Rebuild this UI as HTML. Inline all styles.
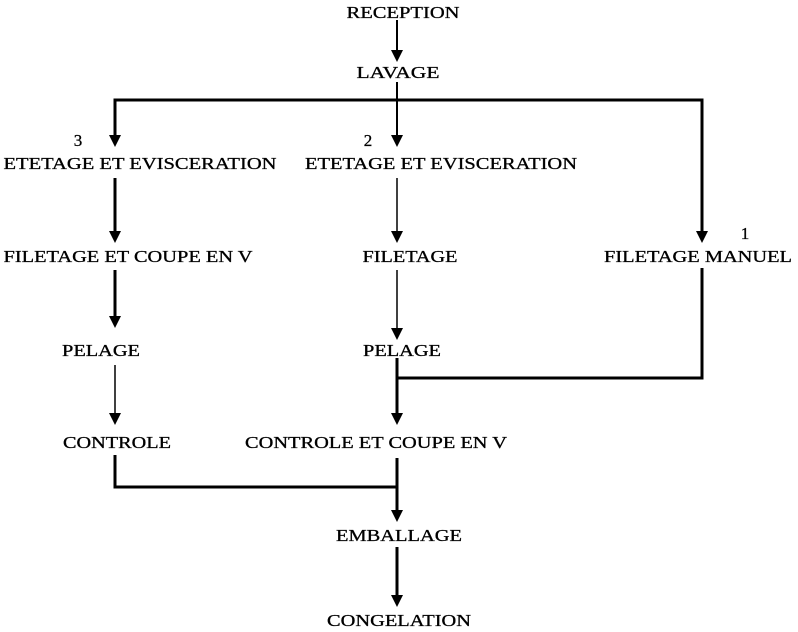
<!DOCTYPE html>
<html><head><style>html,body{margin:0;padding:0;background:#fff;}svg{display:block}</style></head>
<body>
<svg width="798" height="632" viewBox="0 0 798 632" xmlns="http://www.w3.org/2000/svg">
<g stroke="#000" fill="none">
<line x1="397" y1="20" x2="397" y2="52" stroke-width="2"/>
<line x1="397" y1="82" x2="397" y2="137" stroke-width="2"/>
<polyline points="115,137 115,100 702,100 702,233" stroke-width="3"/>
<line x1="115" y1="178" x2="115" y2="233" stroke-width="3"/>
<line x1="115" y1="270" x2="115" y2="318" stroke-width="3"/>
<line x1="115" y1="365" x2="115" y2="415" stroke-width="1.5"/>
<polyline points="115,455 115,487 397,487" stroke-width="3"/>
<line x1="397" y1="178" x2="397" y2="233" stroke-width="1.5"/>
<line x1="397" y1="270" x2="397" y2="330" stroke-width="1.5"/>
<line x1="397" y1="358" x2="397" y2="415" stroke-width="3"/>
<polyline points="397,378 702,378 702,268" stroke-width="3"/>
<line x1="397" y1="458" x2="397" y2="512" stroke-width="3"/>
<line x1="397" y1="547" x2="397" y2="597" stroke-width="3"/>
</g>
<g fill="#000">
<path d="M391,50 L403,50 L397,62 Z"/>
<path d="M109,135 L121,135 L115,147 Z"/>
<path d="M391,135 L403,135 L397,147 Z"/>
<path d="M696,231 L708,231 L702,243 Z"/>
<path d="M109,231 L121,231 L115,243 Z"/>
<path d="M391,231 L403,231 L397,243 Z"/>
<path d="M109,316 L121,316 L115,328 Z"/>
<path d="M391,328 L403,328 L397,340 Z"/>
<path d="M109,413 L121,413 L115,425 Z"/>
<path d="M391,413 L403,413 L397,425 Z"/>
<path d="M391,510 L403,510 L397,522 Z"/>
<path d="M391,595 L403,595 L397,607 Z"/>
</g>
<g font-family="Liberation Serif, serif" font-size="17" fill="#000" stroke="#000" stroke-width="0.3" text-anchor="middle">
<text x="403" y="18" textLength="113" lengthAdjust="spacingAndGlyphs">RECEPTION</text>
<text x="398" y="78" textLength="83" lengthAdjust="spacingAndGlyphs">LAVAGE</text>
<text x="78" y="146">3</text>
<text x="368" y="146">2</text>
<text x="745" y="239">1</text>
<text x="140" y="169" textLength="273" lengthAdjust="spacingAndGlyphs">ETETAGE ET EVISCERATION</text>
<text x="441" y="169" textLength="272" lengthAdjust="spacingAndGlyphs">ETETAGE ET EVISCERATION</text>
<text x="128" y="262" textLength="249" lengthAdjust="spacingAndGlyphs">FILETAGE ET COUPE EN V</text>
<text x="410" y="262" textLength="95" lengthAdjust="spacingAndGlyphs">FILETAGE</text>
<text x="698" y="262" textLength="188" lengthAdjust="spacingAndGlyphs">FILETAGE MANUEL</text>
<text x="101" y="356" textLength="78" lengthAdjust="spacingAndGlyphs">PELAGE</text>
<text x="402" y="356" textLength="78" lengthAdjust="spacingAndGlyphs">PELAGE</text>
<text x="117" y="448" textLength="108" lengthAdjust="spacingAndGlyphs">CONTROLE</text>
<text x="376" y="448" textLength="262" lengthAdjust="spacingAndGlyphs">CONTROLE ET COUPE EN V</text>
<text x="399" y="541" textLength="126" lengthAdjust="spacingAndGlyphs">EMBALLAGE</text>
<text x="399" y="626" textLength="144" lengthAdjust="spacingAndGlyphs">CONGELATION</text>
</g>
</svg>
</body></html>
